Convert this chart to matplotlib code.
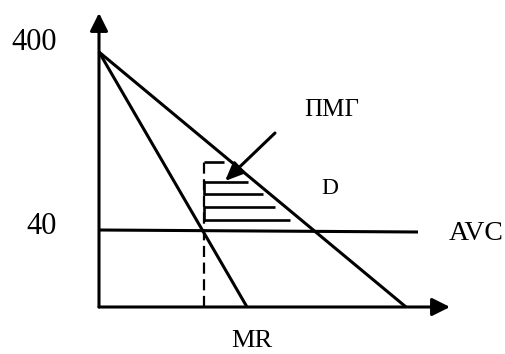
import matplotlib.pyplot as plt
from matplotlib.patches import ArrowStyle

plt.rcParams['font.family'] = ['Liberation Serif', 'DejaVu Serif']

# schematic units (origin = corner of the axes)
q_axis_end = 351
p_axis_end = 294

demand_q = [0, 307]
demand_p = [255, 0]
mr_q = [0, 148]
mr_p = [255, 0]
avc_q = [0, 319]
avc_p = [77, 75]

q_opt = 105          # output where MR = AVC
p_opt = 145          # price read from demand at q_opt

# horizontal hatch lines inside the shaded area
hatch_p = [145, 125, 113, 100, 87]
hatch_q_end = [125, 149, 164, 176, 191]
# little vertical joins at the left edge of the hatch
join_p = [(125, 113), (100, 87)]

pointer_from = (176, 174)
pointer_to = (126, 126)

tick_labels = ['400', '40']
tick_pos = [265, 80]

fig = plt.figure(figsize=(5.06, 3.54), dpi=100)
ax = fig.add_axes([0, 0, 1, 1])
ax.set_xlim(-99, 407)
ax.set_ylim(-47, 307)
ax.axis('off')

lw = 2.2
head = ArrowStyle('-|>', head_length=0.6, head_width=0.3)

# axes with arrows
ax.annotate('', xy=(0, p_axis_end), xytext=(0, 0),
            arrowprops=dict(arrowstyle=head, lw=lw, color='black',
                            mutation_scale=18, shrinkA=0, shrinkB=0))
ax.annotate('', xy=(q_axis_end, 0), xytext=(0, 0),
            arrowprops=dict(arrowstyle=head, lw=lw, color='black',
                            mutation_scale=18, shrinkA=0, shrinkB=0))

ax.plot(demand_q, demand_p, color='black', lw=lw, solid_capstyle='butt')
ax.plot(mr_q, mr_p, color='black', lw=lw, solid_capstyle='butt')
ax.plot(avc_q, avc_p, color='black', lw=lw, solid_capstyle='butt')

ax.plot([q_opt, q_opt], [0, p_opt], color='black', lw=1.6, dashes=(5, 2.5))

for p, qe in zip(hatch_p, hatch_q_end):
    ax.plot([q_opt, qe], [p, p], color='black', lw=1.9, solid_capstyle='butt')
for p0, p1 in join_p:
    ax.plot([q_opt, q_opt], [p0, p1], color='black', lw=1.9)

ax.annotate('', xy=pointer_to, xytext=pointer_from,
            arrowprops=dict(arrowstyle=ArrowStyle('-|>', head_length=0.7, head_width=0.3),
                            lw=lw, color='black', mutation_scale=16,
                            shrinkA=0, shrinkB=0))

for lab, p in zip(tick_labels, tick_pos):
    ax.text(-42, p, lab, ha='right', va='center', fontsize=22)

ax.text(233, 197, 'ПМГ', ha='center', va='center', fontsize=18)
ax.text(231, 118, 'D', ha='center', va='center', fontsize=17)
ax.text(350, 73, 'AVC', ha='left', va='center', fontsize=20)
ax.text(153, -34, 'MR', ha='center', va='center', fontsize=19)

fig.savefig('out.png', dpi=100)
